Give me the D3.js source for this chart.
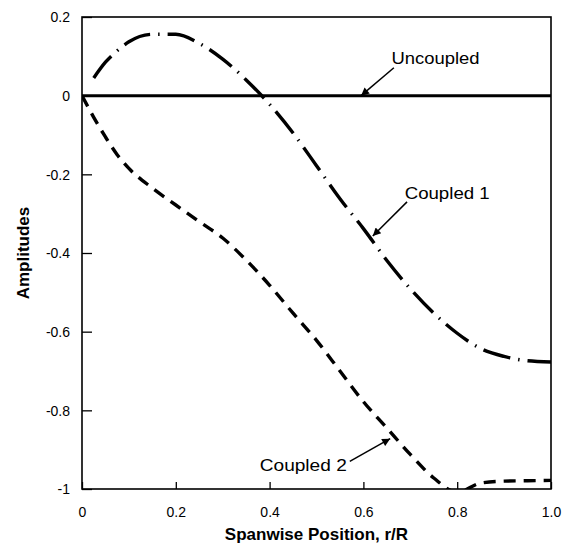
<!DOCTYPE html>
<html>
<head>
<meta charset="utf-8">
<script src="https://cdn.jsdelivr.net/npm/d3@7"></script>
<style>
  body { margin: 0; background: #fff; }
  svg { font-family: "Liberation Sans", Arial, sans-serif; }
</style>
</head>
<body>
<svg id="chart" width="567" height="543"></svg>
<script>
var width = 567;
var height = 543;
var margin = { top: 17, right: 16, bottom: 54, left: 82 };

// spanwise positions r/R
var span = [0, 0.025, 0.05, 0.075, 0.1, 0.15, 0.2, 0.25, 0.3, 0.35, 0.4, 0.45,
            0.5, 0.55, 0.6, 0.65, 0.7, 0.75, 0.8, 0.85, 0.9, 0.95, 1.0];
var uncoupled = [0, 0, 0, 0, 0, 0, 0, 0, 0, 0, 0, 0,
                 0, 0, 0, 0, 0, 0, 0, 0, 0, 0, 0];
var coupled1 = [null, 0.045, 0.085, 0.114, 0.137, 0.156, 0.156, 0.133, 0.093, 0.040, -0.022, -0.095,
                -0.178, -0.262, -0.338, -0.419, -0.491, -0.553, -0.604, -0.643, -0.663, -0.674, -0.677];
var coupled2 = [0, -0.055, -0.105, -0.150, -0.185, -0.235, -0.278, -0.320, -0.362, -0.418, -0.482, -0.553,
                -0.622, -0.700, -0.778, -0.845, -0.912, -0.972, -1.008, -0.985, -0.980, -0.979, -0.978];

var xTicks = [0, 0.2, 0.4, 0.6, 0.8, 1.0];
var xTickLabels = ["0", "0.2", "0.4", "0.6", "0.8", "1.0"];
var yTicks = [0.2, 0, -0.2, -0.4, -0.6, -0.8, -1];
var yTickLabels = ["0.2", "0", "-0.2", "-0.4", "-0.6", "-0.8", "-1"];

var svg = d3.select("#chart");
var g = svg.append("g").attr("transform", "translate(" + margin.left + "," + margin.top + ")");
var w = width - margin.left - margin.right;
var h = height - margin.top - margin.bottom;

var x = d3.scaleLinear().domain([0, 1]).range([0, w]);
var y = d3.scaleLinear().domain([-1, 0.2]).range([h, 0]);

svg.append("defs").append("clipPath").attr("id", "plotclip")
    .append("rect").attr("width", w).attr("height", h);
svg.select("defs").append("marker")
    .attr("id", "arrow")
    .attr("viewBox", "0 0 10 10")
    .attr("refX", 10).attr("refY", 5)
    .attr("markerWidth", 11).attr("markerHeight", 8)
    .attr("markerUnits", "userSpaceOnUse")
    .attr("orient", "auto")
    .append("path").attr("d", "M0,0L10,5L0,10Z").attr("fill", "#000");

// axes with inward ticks
var xAxis = d3.axisBottom(x).tickValues(xTicks)
    .tickFormat(function (d, i) { return xTickLabels[i]; })
    .tickSize(-7).tickPadding(18);
var yAxis = d3.axisLeft(y).tickValues(yTicks)
    .tickFormat(function (d, i) { return yTickLabels[i]; })
    .tickSize(-10).tickPadding(12);

var gx = g.append("g").attr("transform", "translate(0," + h + ")").call(xAxis);
var gy = g.append("g").call(yAxis);
[gx, gy].forEach(function (a) {
    a.select(".domain").remove();
    a.selectAll("line").attr("stroke", "#000").attr("stroke-width", 1.3);
    a.selectAll("text").attr("fill", "#000").style("font-size", "14px")
        .attr("font-family", "Liberation Sans, Arial, sans-serif");
});
gy.selectAll("text").attr("dy", "0.35em");

// frame
g.append("rect").attr("width", w).attr("height", h)
    .attr("fill", "none").attr("stroke", "#000").attr("stroke-width", 1.6);

var line = d3.line()
    .defined(function (d) { return d[1] !== null; })
    .x(function (d) { return x(d[0]); })
    .y(function (d) { return y(d[1]); })
    .curve(d3.curveMonotoneX);

var plot = g.append("g").attr("clip-path", "url(#plotclip)");

plot.append("path")
    .datum(span.map(function (s, i) { return [s, uncoupled[i]]; }))
    .attr("d", line).attr("fill", "none")
    .attr("stroke", "#000").attr("stroke-width", 3);

plot.append("path")
    .datum(span.map(function (s, i) { return [s, coupled1[i]]; }))
    .attr("d", line).attr("fill", "none")
    .attr("stroke", "#000").attr("stroke-width", 3.4)
    .attr("stroke-dasharray", "28,8,1.5,8");

plot.append("path")
    .datum(span.map(function (s, i) { return [s, coupled2[i]]; }))
    .attr("d", line).attr("fill", "none")
    .attr("stroke", "#000").attr("stroke-width", 3.4)
    .attr("stroke-dasharray", "12,8");

// annotations (text position, text width, arrow tail, arrow head in data units)
var notes = [
    { text: "Uncoupled", tx: 0.66, ty: 0.08, len: 88, from: [0.665, 0.071], to: [0.595, 0] },
    { text: "Coupled 1", tx: 0.688, ty: -0.262, len: 85, from: [0.693, -0.27], to: [0.62, -0.357] },
    { text: "Coupled 2", tx: 0.379, ty: -0.953, len: 87, from: [0.571, -0.93], to: [0.657, -0.872] }
];
notes.forEach(function (n) {
    g.append("text")
        .attr("x", x(n.tx)).attr("y", y(n.ty))
        .attr("textLength", n.len).attr("lengthAdjust", "spacingAndGlyphs")
        .style("font-size", "16px")
        .text(n.text);
    g.append("line")
        .attr("x1", x(n.from[0])).attr("y1", y(n.from[1]))
        .attr("x2", x(n.to[0])).attr("y2", y(n.to[1]))
        .attr("stroke", "#000").attr("stroke-width", 1.5)
        .attr("marker-end", "url(#arrow)");
});

// axis titles
svg.append("text")
    .attr("x", margin.left + w / 2).attr("y", 540)
    .attr("text-anchor", "middle")
    .style("font-size", "17px").style("font-weight", "bold")
    .text("Spanwise Position, r/R");
svg.append("text")
    .attr("transform", "translate(29," + (margin.top + h / 2) + ") rotate(-90)")
    .attr("text-anchor", "middle")
    .style("font-size", "17px").style("font-weight", "bold")
    .text("Amplitudes");
</script>
</body>
</html>
